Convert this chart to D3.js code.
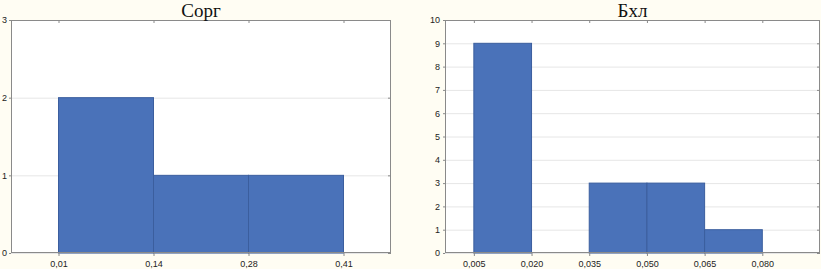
<!DOCTYPE html>
<html>
<head>
<meta charset="utf-8">
<script src="https://cdn.jsdelivr.net/npm/d3@7"></script>
<style>
  body { margin: 0; background: #fffdf3; }
  svg { display: block; }
</style>
</head>
<body>
<div id="chart"></div>
<script>
// histogram data: bin edge labels and counts per bin
var corgEdges = ["0,01", "0,14", "0,28", "0,41"];
var corgCounts = [2, 1, 1];
var corgYTicks = [0, 1, 2, 3];

var bxlEdges = ["0,005", "0,020", "0,035", "0,050", "0,065", "0,080"];
var bxlCounts = [9, 0, 3, 3, 1];
var bxlYTicks = [0, 1, 2, 3, 4, 5, 6, 7, 8, 9, 10];

var svg = d3.select("#chart")
    .append("svg")
    .attr("width", 821)
    .attr("height", 269);

function drawHist(opts) {
    var x = d3.scaleLinear()
        .domain(opts.xDomain)
        .range([opts.left, opts.right]);
    var y = d3.scaleLinear()
        .domain([0, opts.yMax])
        .range([opts.bottom, opts.top]);

    var g = svg.append("g");

    // plot background
    g.append("rect")
        .attr("x", opts.left)
        .attr("y", opts.top)
        .attr("width", opts.right - opts.left)
        .attr("height", opts.bottom - opts.top)
        .attr("fill", "#ffffff");

    // horizontal grid
    g.selectAll(".grid")
        .data(opts.yTicks)
        .enter()
        .append("line")
        .attr("x1", opts.left)
        .attr("x2", opts.right)
        .attr("y1", function(d) { return y(d) + 0.5; })
        .attr("y2", function(d) { return y(d) + 0.5; })
        .attr("stroke", "#e6e6e6")
        .attr("stroke-width", 1);

    // bars
    g.selectAll(".bar")
        .data(opts.counts)
        .enter()
        .append("rect")
        .attr("x", function(d, i) { return x(i); })
        .attr("y", function(d) { return y(d); })
        .attr("width", function(d, i) { return x(i + 1) - x(i); })
        .attr("height", function(d) { return opts.bottom - y(d); })
        .attr("fill", "#4a72b9")
        .attr("stroke", function(d) { return d > 0 ? "#3b5e9e" : "none"; })
        .attr("stroke-width", 1);

    // frame
    g.append("rect")
        .attr("x", opts.left + 0.5)
        .attr("y", opts.top + 0.5)
        .attr("width", opts.right - opts.left - 1)
        .attr("height", opts.bottom - opts.top - 1)
        .attr("fill", "none")
        .attr("stroke", "#8a8a8a")
        .attr("stroke-width", 1);

    var idx = opts.edges.map(function(d, i) { return i; });

    // bottom axis
    var xb = g.append("g")
        .attr("transform", "translate(0," + opts.bottom + ")")
        .call(d3.axisBottom(x).tickValues(idx)
            .tickFormat(function(d) { return opts.edges[d]; })
            .tickSize(3).tickPadding(5));
    // top ticks
    var xt = g.append("g")
        .attr("transform", "translate(0," + opts.top + ")")
        .call(d3.axisBottom(x).tickValues(idx).tickFormat("").tickSize(3));
    // left axis
    var yl = g.append("g")
        .attr("transform", "translate(" + opts.left + ",0)")
        .call(d3.axisLeft(y).tickValues(opts.yTicks).tickFormat(d3.format("d"))
            .tickSize(2).tickPadding(opts.yPad));
    // right ticks
    var yr = g.append("g")
        .attr("transform", "translate(" + opts.right + ",0)")
        .call(d3.axisLeft(y).tickValues(opts.yTicks).tickFormat("").tickSize(3));

    [xb, xt, yl, yr].forEach(function(a) {
        a.select(".domain").remove();
        a.selectAll(".tick line").attr("stroke", "#8a8a8a");
        a.selectAll("text")
            .attr("fill", "#222")
            .style("font-family", "Liberation Sans, Arial, sans-serif")
            .style("font-size", "9px");
    });

    // title
    g.append("text")
        .attr("x", (opts.left + opts.right) / 2)
        .attr("y", 17)
        .attr("text-anchor", "middle")
        .style("font-family", "Liberation Serif, Times New Roman, serif")
        .style("font-size", "19px")
        .attr("fill", "#111")
        .text(opts.title);
}

drawHist({
    title: "Сорг",
    edges: corgEdges,
    counts: corgCounts,
    yTicks: corgYTicks,
    yMax: 3,
    yPad: 2,
    xDomain: [-0.5, 3.5],
    left: 11, right: 391, top: 20, bottom: 253
});

drawHist({
    title: "Бхл",
    edges: bxlEdges,
    counts: bxlCounts,
    yTicks: bxlYTicks,
    yMax: 10,
    yPad: 3,
    xDomain: [-0.5, 6],
    left: 445, right: 820, top: 20, bottom: 253
});
</script>
</body>
</html>
